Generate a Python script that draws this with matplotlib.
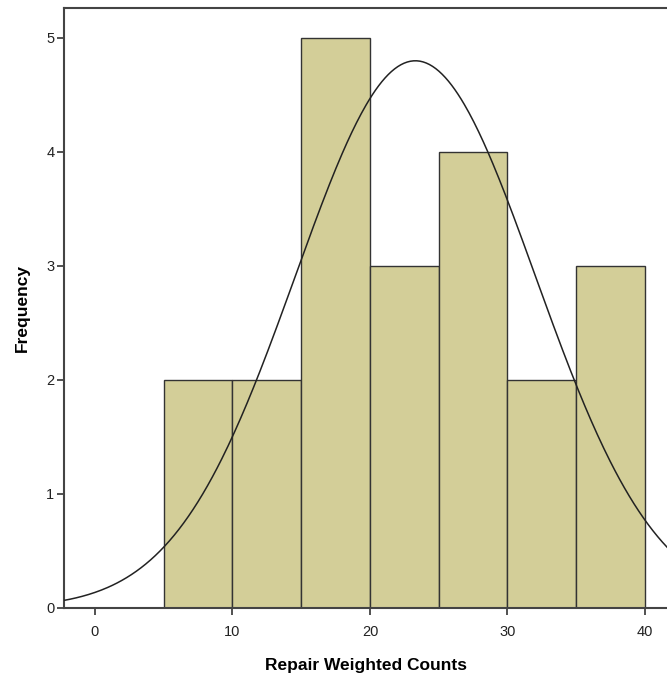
import numpy as np
import matplotlib.pyplot as plt

# histogram of repair weighted counts (SPSS style)
bin_edges = [5, 10, 15, 20, 25, 30, 35, 40]
counts = [2, 2, 5, 3, 4, 2, 3]
curve_mean = 23.3
curve_sd = 8.73
n_total = sum(counts)
x_ticks = [0, 10, 20, 30, 40]
y_ticks = [0, 1, 2, 3, 4, 5]

plt.rcParams["font.family"] = ["Liberation Sans", "DejaVu Sans"]

fig = plt.figure(figsize=(6.67, 6.77), dpi=100)
ax = fig.add_axes([0.096, 0.102, 0.904, 0.886])

lefts = np.array(bin_edges[:-1])
widths = np.diff(bin_edges)
ax.bar(lefts, counts, width=widths, align="edge", color="#d3ce98",
       edgecolor="#333333", linewidth=1.0, zorder=2)

xs = np.linspace(-3, 43, 400)
bw = widths[0]
ys = n_total * bw / (curve_sd * np.sqrt(2 * np.pi)) * np.exp(-0.5 * ((xs - curve_mean) / curve_sd) ** 2)
ax.plot(xs, ys, color="#222222", linewidth=1.1, zorder=3)

ax.set_xlim(-2.25, 41.6)
ax.set_ylim(0, 5.26)
ax.set_xticks(x_ticks)
ax.set_yticks(y_ticks)
ax.spines["right"].set_visible(False)
for s in ["left", "top", "bottom"]:
    ax.spines[s].set_color("#444444")
    ax.spines[s].set_linewidth(1.5)
ax.tick_params(direction="out", length=5, width=1.2, color="#333333",
               labelsize=10.5, labelcolor="#222222")
ax.tick_params(axis="x", pad=7)
ax.tick_params(axis="y", pad=2)
ax.set_xlabel("Repair Weighted Counts", fontsize=12.5, fontweight="bold", labelpad=14)
ax.set_ylabel("Frequency", fontsize=12.5, fontweight="bold", labelpad=12)

fig.savefig("out.png", dpi=100)
